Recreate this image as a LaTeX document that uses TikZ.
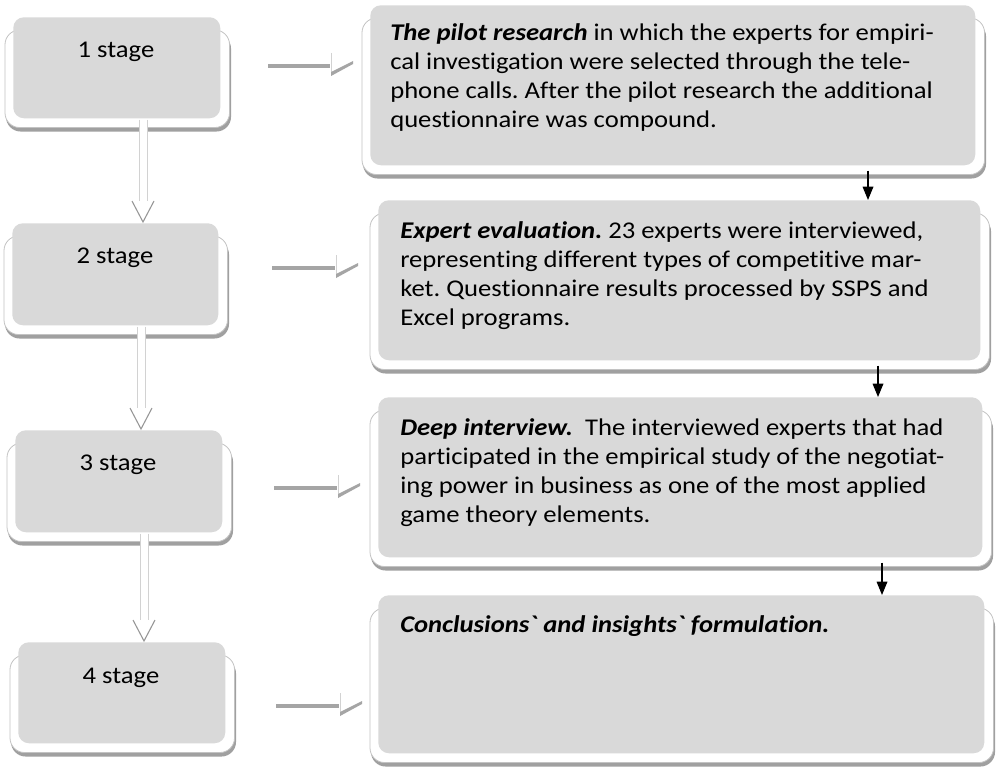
\documentclass[tikz,border=0pt]{standalone}
\usepackage{fontspec}
\setmainfont{Carlito}[Ligatures={TeXOff,CommonOff}, FakeStretch=1.11]
\usetikzlibrary{calc,arrows.meta}
\pgfdeclarelayer{background}
\pgfsetlayers{background,main}
\frenchspacing

\definecolor{panelgray}{RGB}{217,217,217}
\definecolor{rimgray}{RGB}{195,195,195}
\definecolor{shadowgray}{RGB}{160,160,160}
\definecolor{bargray}{RGB}{165,165,165}
\definecolor{shaftgray}{RGB}{210,210,210}
\definecolor{chevrongray}{RGB}{150,150,150}

\tikzset{
  panel/.style={fill=panelgray, rounded corners=8pt, inner sep=0pt, draw=none, anchor=north west},
  stagelabel/.style={font=\fontsize{18}{21.75}\selectfont, inner sep=0pt, anchor=base},
  notetext/.style={font=\fontsize{18}{21.75}\selectfont, align=left, inner sep=0pt, anchor=north west},
  flowarrow/.style={draw=black, line width=0.9pt, -{Triangle[length=10pt,width=8pt]}},
  shaftside/.style={draw=shaftgray, line width=0.6pt},
  chevron/.style={draw=chevrongray, line width=0.8pt},
  barpiece/.style={fill=bargray, draw=none},
  tick/.style={draw=shaftgray, line width=0.5pt},
}

% white bevel frame with a drop shadow, placed behind a panel node
\newcommand\panelframe[1]{%
  \begin{pgfonlayer}{background}
    \fill[shadowgray, rounded corners=11pt]
      ($(#1.north west)+(-7,17)$) rectangle ($(#1.south east)+(10.5,13)$);
    \filldraw[fill=white, draw=rimgray, line width=0.6pt, rounded corners=11pt]
      ($(#1.north west)+(-8,13)$) rectangle ($(#1.south east)+(9,9)$);
  \end{pgfonlayer}}

% hollow shaft with an open chevron head between two stage boxes
\newcommand\stagelink[3]{%
  \fill[white] ($(#1.south -| #3)+(-4,1)$) rectangle ($(#2.north -| #3)+(4,-22)$);
  \draw[shaftside] ($(#1.south -| #3)+(-4,1)$) -- ($(#2.north -| #3)+(-4,-22)$);
  \draw[shaftside] ($(#1.south -| #3)+(4,1)$) -- ($(#2.north -| #3)+(4,-22)$);
  \draw[chevron] ($(#2.north -| #3)+(-11,-22)$) -- ($(#2.north -| #3)+(0,-1)$) -- ($(#2.north -| #3)+(11,-22)$);}

% broken grey pointer from a stage box towards its description
\newcommand\sidepointer[3]{% start x, end x, y
  \fill[barpiece] (#1,#3-2) rectangle (#2,#3+2);
  \draw[tick] (#2+1,#3-13) -- (#2+1,#3+10);
  \fill[barpiece] (#2+1,#3+6) -- (#2+23,#3-5) -- (#2+23,#3-2) -- (#2+1,#3+10) -- cycle;}

\begin{document}
\begin{tikzpicture}[x=0.75pt, y=-0.75pt]
\useasboundingbox (0,0) rectangle (999,770);
\begin{pgfonlayer}{background}
  \fill[white] (0,0) rectangle (999,770);
\end{pgfonlayer}

% stage boxes
\node[panel, minimum width={207*0.75pt}, minimum height={101*0.75pt}] (L1) at (13,17) {};
\node[panel, minimum width={206*0.75pt}, minimum height={102*0.75pt}] (L2) at (12,223) {};
\node[panel, minimum width={207*0.75pt}, minimum height={102*0.75pt}] (L3) at (15,430) {};
\node[panel, minimum width={207*0.75pt}, minimum height={101*0.75pt}] (L4) at (18,642) {};

% description boxes
\node[panel, minimum width={605*0.75pt}, minimum height={160*0.75pt}] (R1) at (370,5) {};
\node[panel, minimum width={602*0.75pt}, minimum height={160*0.75pt}] (R2) at (378,200) {};
\node[panel, minimum width={604*0.75pt}, minimum height={160*0.75pt}] (R3) at (378,397) {};
\node[panel, minimum width={606*0.75pt}, minimum height={158*0.75pt}] (R4) at (378,595) {};

\panelframe{L1}\panelframe{L2}\panelframe{L3}\panelframe{L4}
\panelframe{R1}\panelframe{R2}\panelframe{R3}\panelframe{R4}

% stage labels
\node[stagelabel] (s1) at (116,58) {1 stage};
\node[stagelabel] (s2) at (115,263) {2 stage};
\node[stagelabel] (s3) at (118,470) {3 stage};
\node[stagelabel] (s4) at (121,683) {4 stage};

% descriptions
\node[notetext] (t1) at (390,23) {\textbf{\textit{The pilot research}} in which the experts for empiri-\\
cal investigation were selected through the tele-\\
phone calls. After the pilot research the additional\\
questionnaire was compound.};
\node[notetext] (t2) at (400,221) {\textbf{\textit{Expert evaluation.}} 23 experts were interviewed,\\
representing different types of competitive mar-\\
ket. Questionnaire results processed by SSPS and\\
Excel programs.};
\node[notetext] (t3) at (400,418) {\textbf{\textit{Deep interview.}}\ \ The interviewed experts that had\\
participated in the empirical study of the negotiat-\\
ing power in business as one of the most applied\\
game theory elements.};
\node[notetext] (t4) at (400,615) {\textbf{\textit{Conclusions` and insights` formulation.}}};

% links between stages
\coordinate (c1) at (143,0);
\coordinate (c2) at (141,0);
\coordinate (c3) at (144,0);
\stagelink{L1}{L2}{c1}
\stagelink{L2}{L3}{c2}
\stagelink{L3}{L4}{c3}

% arrows between descriptions
\coordinate (a1) at (868,0);
\coordinate (a2) at (878,0);
\coordinate (a3) at (882,0);
\draw[flowarrow] ($(R1.south -| a1)+(0,5)$) -- (R2.north -| a1);
\draw[flowarrow] ($(R2.south -| a2)+(0,5)$) -- (R3.north -| a2);
\draw[flowarrow] ($(R3.south -| a3)+(0,5)$) -- (R4.north -| a3);

% pointers from stages to descriptions
\sidepointer{268}{330}{66}
\sidepointer{272}{335}{268}
\sidepointer{274}{337}{488}
\sidepointer{276}{339}{706}
\end{tikzpicture}
\end{document}
